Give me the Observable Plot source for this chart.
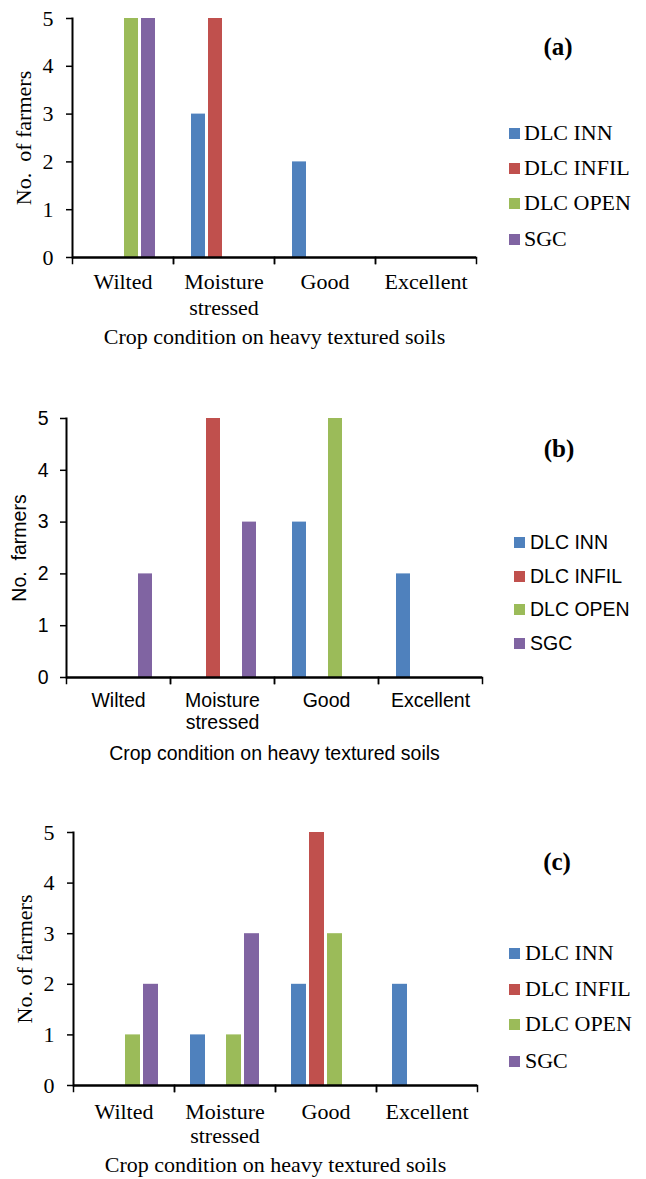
<!DOCTYPE html>
<html><head><meta charset="utf-8">
<script src="https://cdn.jsdelivr.net/npm/d3@7"></script>
<script src="https://cdn.jsdelivr.net/npm/@observablehq/plot@0.6"></script>
<style>
body{margin:0;background:#fff}
#page{position:relative;width:646px;height:1179px;overflow:hidden;background:#fff}
.panel{position:absolute;left:0;width:646px}
.panel svg{display:block;overflow:visible}
.plabel{position:absolute;font-family:"Liberation Serif","Times New Roman",serif;font-weight:bold;font-size:25px;transform:translate(-50%,-50%);color:#000}
.lg{position:absolute;display:flex;align-items:center;white-space:nowrap;color:#000;transform:translateY(-50%)}
.sw{position:absolute;width:11px;height:11px}
</style></head>
<body><div id="page"></div>
<script>
// ---- data ----
const categories = ["Wilted", "Moisture\nstressed", "Good", "Excellent"];
const seriesNames = ["DLC INN", "DLC INFIL", "DLC OPEN", "SGC"];
const seriesColors = ["#4F81BD", "#C0504D", "#9BBB59", "#8064A2"];
const yTicks = [0, 1, 2, 3, 4, 5];
const xTitle = "Crop condition on heavy textured soils";

// values per series, in category order (Wilted, Moisture stressed, Good, Excellent)
const panelA_INN   = [0, 3, 2, 0];
const panelA_INFIL = [0, 5, 0, 0];
const panelA_OPEN  = [5, 0, 0, 0];
const panelA_SGC   = [5, 0, 0, 0];

const panelB_INN   = [0, 0, 3, 2];
const panelB_INFIL = [0, 5, 0, 0];
const panelB_OPEN  = [0, 0, 5, 0];
const panelB_SGC   = [2, 3, 0, 0];

const panelC_INN   = [0, 1, 2, 2];
const panelC_INFIL = [0, 0, 5, 0];
const panelC_OPEN  = [1, 1, 3, 0];
const panelC_SGC   = [2, 3, 0, 0];

const SERIF = '"Liberation Serif","Times New Roman",serif';
const SANS = '"Liberation Sans",Arial,sans-serif';

const panels = [
  {tag: "(a)", yTitle: "No.\u00a0 of farmers", values: [panelA_INN, panelA_INFIL, panelA_OPEN, panelA_SGC],
   top: 0, height: 360, mt: 18, mb: 103, ml: 71, mr: 169, font: SERIF, fs: 22,
   tickPad: 13, fxPad: 13, lh: 1.17, xLabOff: 86, yLabOff: 57, pi: 0.167, po: 0.9,
   tagX: 558, tagY: 47, swX: 509, txX: 524, rows: [133, 168, 203, 239]},
  {tag: "(b)", yTitle: "No.\u00a0 farmers", values: [panelB_INN, panelB_INFIL, panelB_OPEN, panelB_SGC],
   top: 400, height: 370, mt: 18, mb: 93, ml: 65, mr: 163, font: SANS, fs: 19.5,
   tickPad: 12, fxPad: 14, lh: 1.13, xLabOff: 82, yLabOff: 54, pi: 0.21, po: 0.855,
   tagX: 559, tagY: 49, swX: 514, txX: 530, rows: [142, 176, 209, 243]},
  {tag: "(c)", yTitle: "No. of farmers", values: [panelC_INN, panelC_INFIL, panelC_OPEN, panelC_SGC],
   top: 790, height: 389, mt: 42, mb: 94, ml: 72, mr: 169, font: SERIF, fs: 22,
   tickPad: 13, fxPad: 16, lh: 1.09, xLabOff: 86, yLabOff: 57, pi: 0.19, po: 0.83,
   tagX: 557, tagY: 72, swX: 509, txX: 525, rows: [163, 199, 234, 271]}
];

const page = document.getElementById("page");

for (const p of panels) {
  const rows = [];
  seriesNames.forEach((s, j) => categories.forEach((c, i) => rows.push({cond: c, series: s, value: p.values[j][i]})));
  const innerH = p.height - p.mt - p.mb;

  const chart = Plot.plot({
    width: 646, height: p.height,
    marginTop: p.mt, marginBottom: p.mb, marginLeft: p.ml, marginRight: p.mr,
    style: {fontSize: p.fs + "px", fontFamily: p.font, color: "#000", background: "transparent", overflow: "visible"},
    fx: {domain: categories, padding: 0},
    x: {domain: seriesNames, paddingInner: p.pi, paddingOuter: p.po, axis: null},
    y: {domain: [0, 5]},
    color: {domain: seriesNames, range: seriesColors},
    marks: [
      Plot.barY(rows, {fx: "cond", x: "series", y: "value", fill: "series"}),
      Plot.frame({anchor: "left", insetTop: innerH, insetBottom: -6, strokeWidth: 1.5}),
      Plot.frame({anchor: "right", insetTop: innerH, insetBottom: -6, strokeWidth: 1.5}),
      Plot.frame({anchor: "left", facet: "super", strokeWidth: 2}),
      Plot.ruleY([0], {strokeWidth: 2.5}),
      Plot.axisY(yTicks, {anchor: "left", tickSize: 6, tickPadding: p.tickPad, strokeWidth: 1.5, tickFormat: d => String(d),
        label: p.yTitle, labelAnchor: "center", labelOffset: p.yLabOff, labelArrow: false}),
      Plot.axisFx({anchor: "bottom", tickSize: 0, tickPadding: p.fxPad, lineHeight: p.lh,
        label: xTitle, labelAnchor: "center", labelOffset: p.xLabOff, labelArrow: false})
    ]
  });

  const div = document.createElement("div");
  div.className = "panel";
  div.style.top = p.top + "px";
  div.style.height = p.height + "px";
  div.appendChild(chart);

  const tag = document.createElement("div");
  tag.className = "plabel";
  tag.style.left = p.tagX + "px";
  tag.style.top = p.tagY + "px";
  tag.textContent = p.tag;
  div.appendChild(tag);

  seriesNames.forEach((s, j) => {
    const sw = document.createElement("div");
    sw.className = "sw";
    sw.style.left = p.swX + "px";
    sw.style.top = (p.rows[j] - 5.5) + "px";
    sw.style.background = seriesColors[j];
    div.appendChild(sw);
    const t = document.createElement("div");
    t.className = "lg";
    t.style.left = p.txX + "px";
    t.style.top = p.rows[j] + "px";
    t.style.fontFamily = p.font;
    t.style.fontSize = p.fs + "px";
    t.textContent = s;
    div.appendChild(t);
  });

  page.appendChild(div);
}
</script>
</body></html>
